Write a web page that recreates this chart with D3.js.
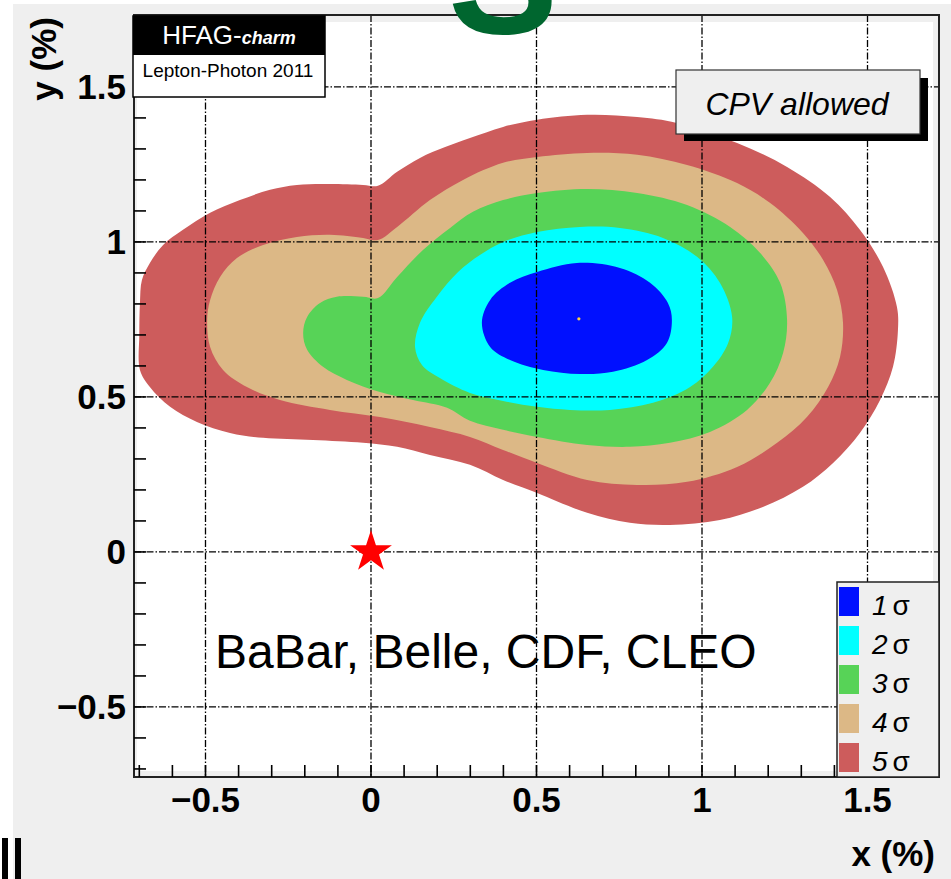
<!DOCTYPE html>
<html>
<head>
<meta charset="utf-8">
<script src="https://cdn.jsdelivr.net/npm/d3@7"></script>
<style>
  body { margin: 0; background: #ffffff; }
  svg { display: block; }
</style>
</head>
<body>
<svg id="fig" width="951" height="879"></svg>
<script>

// axis ranges (percent)
var xDomain = [-0.716, 1.716];
var yDomain = [-0.726, 1.732];
var majorTicks = [-0.5, 0, 0.5, 1, 1.5];
var tickLabels = ["\u22120.5", "0", "0.5", "1", "1.5"];

// contour levels, outer first
var levels = ["5", "4", "3", "2", "1"];
var levelColors = ["#cd5c5c", "#dcb886", "#57d357", "#00ffff", "#0010ff"];

// contour outlines, [x, y] in %
var sigma5 = [[0.021,1.181],[0.079,1.226],[0.148,1.271],[0.224,1.306],[0.299,1.335],[0.399,1.371],[0.502,1.394],
  [0.653,1.410],[0.804,1.403],[0.924,1.384],[1.106,1.319],[1.257,1.242],[1.387,1.145],[1.477,1.039],[1.547,0.919],
  [1.589,0.790],[1.592,0.716],[1.577,0.597],[1.538,0.490],[1.477,0.384],[1.396,0.287],[1.305,0.210],[1.184,0.145],
  [1.054,0.103],[0.903,0.087],[0.782,0.094],[0.653,0.126],[0.502,0.190],[0.399,0.232],[0.299,0.281],[0.178,0.313],
  [0.079,0.339],[-0.024,0.352],[-0.175,0.361],[-0.326,0.368],[-0.426,0.384],[-0.526,0.419],[-0.607,0.468],
  [-0.668,0.532],[-0.698,0.587],[-0.700,0.700],[-0.698,0.803],[-0.692,0.877],[-0.668,0.932],[-0.628,0.990],
  [-0.568,1.039],[-0.486,1.094],[-0.396,1.135],[-0.305,1.168],[-0.224,1.184],[-0.124,1.187],[-0.024,1.184]];
var sigma4 = [[0.021,1.006],[0.079,1.048],[0.178,1.135],[0.278,1.200],[0.399,1.255],[0.502,1.274],[0.653,1.287],
  [0.804,1.281],[0.955,1.248],[1.106,1.190],[1.205,1.126],[1.305,1.029],[1.366,0.942],[1.408,0.845],[1.426,0.739],
  [1.417,0.629],[1.381,0.532],[1.317,0.435],[1.227,0.352],[1.106,0.274],[0.955,0.226],[0.804,0.216],[0.653,0.232],
  [0.502,0.287],[0.399,0.329],[0.299,0.371],[0.178,0.403],[0.027,0.435],[-0.124,0.458],[-0.275,0.490],
  [-0.375,0.532],[-0.447,0.587],[-0.486,0.661],[-0.495,0.748],[-0.486,0.813],[-0.456,0.887],[-0.405,0.948],
  [-0.326,0.990],[-0.224,1.016],[-0.124,1.023],[-0.024,1.013]];
var sigma3 = [[0.021,0.819],[0.079,0.887],[0.157,0.974],[0.239,1.045],[0.308,1.097],[0.399,1.135],[0.502,1.158],
  [0.653,1.171],[0.804,1.158],[0.955,1.119],[1.085,1.048],[1.175,0.965],[1.236,0.868],[1.257,0.748],[1.245,0.642],
  [1.205,0.545],[1.136,0.458],[1.024,0.387],[0.903,0.352],[0.782,0.339],[0.653,0.345],[0.502,0.371],[0.399,0.394],
  [0.299,0.423],[0.230,0.465],[0.127,0.490],[0.027,0.516],[-0.073,0.555],[-0.145,0.597],[-0.193,0.652],
  [-0.205,0.706],[-0.193,0.758],[-0.154,0.803],[-0.103,0.823],[-0.024,0.823]];
var sigma2 = [[0.133,0.661],[0.148,0.739],[0.199,0.823],[0.263,0.903],[0.329,0.958],[0.399,1.000],[0.502,1.032],
  [0.631,1.048],[0.752,1.045],[0.882,1.013],[0.985,0.952],[1.054,0.868],[1.091,0.758],[1.079,0.674],[1.033,0.597],
  [0.964,0.532],[0.852,0.481],[0.722,0.458],[0.601,0.458],[0.502,0.468],[0.399,0.487],[0.299,0.513],[0.208,0.561],
  [0.154,0.603]];
var sigma1 = [[0.335,0.739],[0.360,0.813],[0.420,0.868],[0.502,0.903],[0.622,0.932],[0.752,0.916],[0.843,0.868],
  [0.897,0.803],[0.909,0.748],[0.894,0.674],[0.834,0.619],[0.731,0.581],[0.631,0.574],[0.520,0.587],[0.420,0.619],
  [0.360,0.661]];

var bestFit = [0.628, 0.752];
var noMixing = [0, 0];

var font = "'Liberation Sans', Arial, Helvetica, sans-serif";

function draw(){
    var svg = d3.select("#fig");

    var x = d3.scaleLinear().domain(xDomain).range([134, 939]);
    var y = d3.scaleLinear().domain(yDomain).range([777, 15]);

    // pad background
    svg.append("rect").attr("x", 13).attr("y", 4).attr("width", 938).attr("height", 875).attr("fill", "#efefef");
    // frame
    svg.append("rect").attr("x", 137).attr("y", 22).attr("width", 796).attr("height", 749).attr("fill", "#ffffff");

    // filled contours
    var line = d3.line().x(function(d){ return x(d[0]); }).y(function(d){ return y(d[1]); })
                 .curve(d3.curveCatmullRomClosed.alpha(0.5));
    var shapes = [sigma5, sigma4, sigma3, sigma2, sigma1];
    svg.append("g").selectAll("path").data(shapes).enter().append("path")
        .attr("d", line)
        .attr("fill", function(d, i){ return levelColors[i]; });

    svg.append("circle").attr("cx", x(bestFit[0])).attr("cy", y(bestFit[1])).attr("r", 1.6).attr("fill", "#ffd040");

    // grid
    var grid = svg.append("g").attr("stroke", "#000").attr("stroke-width", 1.3).attr("stroke-dasharray", "7,2,1.5,2");
    majorTicks.forEach(function(t){
        grid.append("line").attr("x1", x(t)).attr("x2", x(t)).attr("y1", 15).attr("y2", 777);
        grid.append("line").attr("x1", 134).attr("x2", 939).attr("y1", y(t)).attr("y2", y(t));
    });

    // frame border
    svg.append("rect").attr("x", 134).attr("y", 15).attr("width", 805).attr("height", 762)
        .attr("fill", "none").attr("stroke", "#222").attr("stroke-width", 2);

    // ticks every 0.1, pointing inward
    var minor = d3.range(-7, 18).map(function(k){ return k / 10; });
    var ticks = svg.append("g").attr("stroke", "#000").attr("stroke-width", 1.6);
    minor.forEach(function(t){
        if (t >= xDomain[0] && t <= xDomain[1])
            ticks.append("line").attr("x1", x(t)).attr("x2", x(t)).attr("y1", 777).attr("y2", 765);
        if (t >= yDomain[0] && t <= yDomain[1])
            ticks.append("line").attr("x1", 134).attr("x2", 146).attr("y1", y(t)).attr("y2", y(t));
    });

    // tick labels
    var lab = svg.append("g").style("font-family", font).style("font-weight", "bold").style("font-size", "35px").attr("fill", "#000");
    majorTicks.forEach(function(t, i){
        lab.append("text").attr("x", x(t)).attr("y", 812).attr("text-anchor", "middle").text(tickLabels[i]);
        lab.append("text").attr("x", 126).attr("y", y(t) + 12).attr("text-anchor", "end").text(tickLabels[i]);
    });
    lab.append("text").attr("x", 935).attr("y", 866).attr("text-anchor", "end").text("x (%)");
    lab.append("text").attr("transform", "translate(56,17) rotate(-90)").attr("text-anchor", "end").text("y (%)");

    // no-mixing point
    svg.append("path").attr("d", d3.symbol().type(d3.symbolStar).size(543)())
        .attr("transform", "translate(" + x(noMixing[0]) + "," + y(noMixing[1]) + ")")
        .attr("fill", "#ff0000");

    svg.append("text").attr("x", 215).attr("y", 668)
        .style("font-family", font).style("font-size", "48px").attr("fill", "#000")
        .text("BaBar, Belle, CDF, CLEO");

    // HFAG label
    svg.append("rect").attr("x", 133).attr("y", 16).attr("width", 192).attr("height", 81)
        .attr("fill", "#fff").attr("stroke", "#000").attr("stroke-width", 1.5);
    svg.append("rect").attr("x", 133).attr("y", 16).attr("width", 192).attr("height", 39).attr("fill", "#000");
    var hf = svg.append("text").attr("x", 229).attr("y", 44).attr("text-anchor", "middle")
        .style("font-family", font).attr("fill", "#fff");
    hf.append("tspan").style("font-size", "26px").text("HFAG-");
    hf.append("tspan").style("font-size", "18px").style("font-style", "italic").style("font-weight", "bold").text("charm");
    svg.append("text").attr("x", 228).attr("y", 77).attr("text-anchor", "middle")
        .style("font-family", font).style("font-size", "19px").attr("fill", "#000").text("Lepton-Photon 2011");

    // CPV allowed box
    svg.append("rect").attr("x", 684).attr("y", 78).attr("width", 244).attr("height", 63).attr("fill", "#000");
    svg.append("rect").attr("x", 676).attr("y", 70).attr("width", 244).attr("height", 64)
        .attr("fill", "#efefef").attr("stroke", "#333").attr("stroke-width", 1.2);
    svg.append("text").attr("x", 797).attr("y", 115).attr("text-anchor", "middle")
        .style("font-family", font).style("font-size", "32px").style("font-style", "italic").attr("fill", "#000")
        .text("CPV allowed");

    // legend
    svg.append("rect").attr("x", 837).attr("y", 582).attr("width", 102).attr("height", 195)
        .attr("fill", "#efefef").attr("stroke", "#222").attr("stroke-width", 1.5);
    var leg = svg.append("g").selectAll("g").data(levels.slice().reverse()).enter().append("g")
        .attr("transform", function(d, i){ return "translate(839," + (587 + 39 * i) + ")"; });
    leg.append("rect").attr("width", 20).attr("height", 29)
        .attr("fill", function(d, i){ return levelColors[levelColors.length - 1 - i]; });
    var lt = leg.append("text").attr("x", 33).attr("y", 28).style("font-family", font).style("font-size", "28px").attr("fill", "#000");
    lt.append("tspan").style("font-style", "italic").text(function(d){ return d; });
    lt.append("tspan").attr("dx", 5).text("\u03c3");

    // cut-off slide title letter and side marks
    svg.append("text").attr("x", 448).attr("y", 33)
        .style("font-family", font).style("font-weight", "bold").style("font-size", "165px").attr("fill", "#00662f")
        .text("S");
    svg.append("rect").attr("x", 2).attr("y", 838).attr("width", 6).attr("height", 41).attr("fill", "#000");
    svg.append("rect").attr("x", 15).attr("y", 838).attr("width", 6).attr("height", 41).attr("fill", "#000");
}

draw();
</script>
</body>
</html>
